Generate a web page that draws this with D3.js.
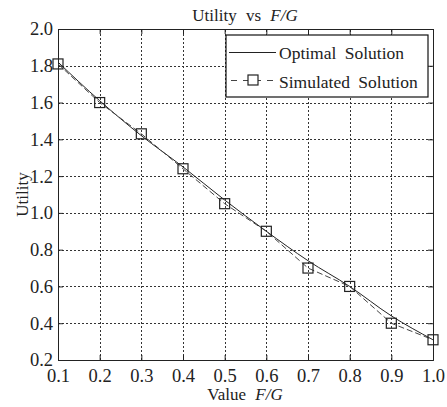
<!DOCTYPE html>
<html>
<head>
<meta charset="utf-8">
<script src="https://cdn.jsdelivr.net/npm/d3@7"></script>
<style>
  body { margin: 0; background: #fff; }
  text { font-family: "Liberation Serif", "DejaVu Serif", serif; fill: #222; }
</style>
</head>
<body>
<script>
const width = 447;
const height = 407;
const margin = { top: 29, right: 14, bottom: 47, left: 58 };

// datos
const valoresFG = [0.1, 0.2, 0.3, 0.4, 0.5, 0.6, 0.7, 0.8, 0.9, 1.0];
const optima = [1.82, 1.61, 1.42, 1.25, 1.07, 0.9, 0.74, 0.6, 0.44, 0.31];
const simulada = [1.81, 1.6, 1.43, 1.24, 1.05, 0.9, 0.7, 0.6, 0.4, 0.31];
const ticksX = [0.1, 0.2, 0.3, 0.4, 0.5, 0.6, 0.7, 0.8, 0.9, 1.0];
const ticksY = [0.2, 0.4, 0.6, 0.8, 1.0, 1.2, 1.4, 1.6, 1.8, 2.0];

const svg = d3
  .select("body")
  .append("svg")
  .attr("width", width)
  .attr("height", height);

const x = d3
  .scaleLinear()
  .domain([0.1, 1.0])
  .range([margin.left, width - margin.right]);

const y = d3
  .scaleLinear()
  .domain([0.2, 2.0])
  .range([height - margin.bottom, margin.top]);

// grilla punteada
const grilla = svg.append("g").attr("stroke", "#333").attr("stroke-width", 1).attr("stroke-dasharray", "2,2");
grilla
  .selectAll(".gx")
  .data(ticksX.slice(1, -1))
  .join("line")
  .attr("x1", (d) => Math.round(x(d)) + 0.5)
  .attr("x2", (d) => Math.round(x(d)) + 0.5)
  .attr("y1", y(0.2))
  .attr("y2", y(2.0));
grilla
  .selectAll(".gy")
  .data(ticksY.slice(1, -1))
  .join("line")
  .attr("y1", (d) => Math.round(y(d)) + 0.5)
  .attr("y2", (d) => Math.round(y(d)) + 0.5)
  .attr("x1", x(0.1))
  .attr("x2", x(1.0));

// ejes
const ejeX = svg
  .append("g")
  .attr("transform", `translate(0, ${y(0.2)})`)
  .call(d3.axisBottom(x).tickValues(ticksX).tickFormat(d3.format(".1f")).tickSize(-5).tickPadding(9));
const ejeY = svg
  .append("g")
  .attr("transform", `translate(${x(0.1)}, 0)`)
  .call(d3.axisLeft(y).tickValues(ticksY).tickFormat(d3.format(".1f")).tickSize(-5).tickPadding(5));
const ejeTop = svg
  .append("g")
  .attr("transform", `translate(0, ${y(2.0)})`)
  .call(d3.axisTop(x).tickValues(ticksX).tickFormat("").tickSize(-5));
const ejeRight = svg
  .append("g")
  .attr("transform", `translate(${x(1.0)}, 0)`)
  .call(d3.axisRight(y).tickValues(ticksY).tickFormat("").tickSize(-5));

[ejeX, ejeY, ejeTop, ejeRight].forEach((g) => {
  g.selectAll(".domain").attr("stroke", "#222");
  g.selectAll(".tick line").attr("stroke", "#222");
  g.selectAll("text").attr("font-size", 18.5).attr("fill", "#222").style("font-family", "Liberation Serif");
});

// lineas
const linea = d3
  .line()
  .x((d, i) => x(valoresFG[i]))
  .y((d) => y(d));

const lineaSuave = d3
  .line()
  .curve(d3.curveMonotoneX)
  .x((d, i) => x(valoresFG[i]))
  .y((d) => y(d));

svg
  .append("path")
  .datum(optima)
  .attr("fill", "none")
  .attr("stroke", "#222")
  .attr("stroke-width", 1)
  .attr("d", lineaSuave);

svg
  .append("path")
  .datum(simulada)
  .attr("fill", "none")
  .attr("stroke", "#444")
  .attr("stroke-width", 1)
  .attr("stroke-dasharray", "6,3")
  .attr("d", linea);

svg
  .append("g")
  .selectAll("rect")
  .data(simulada)
  .join("rect")
  .attr("x", (d, i) => x(valoresFG[i]) - 5)
  .attr("y", (d) => y(d) - 5)
  .attr("width", 10)
  .attr("height", 10)
  .attr("fill", "none")
  .attr("stroke", "#222")
  .attr("stroke-width", 1.2);

// leyenda
const leyenda = svg.append("g").attr("transform", "translate(226, 35)");
leyenda
  .append("rect")
  .attr("width", 202)
  .attr("height", 62)
  .attr("fill", "#fff")
  .attr("stroke", "#111")
  .attr("stroke-width", 1.2);
leyenda
  .append("line")
  .attr("x1", 3)
  .attr("x2", 50)
  .attr("y1", 17.5)
  .attr("y2", 17.5)
  .attr("stroke", "#222");
leyenda
  .append("text")
  .attr("x", 53)
  .attr("y", 24)
  .attr("font-size", 17.5)
  .attr("word-spacing", 4)
  .text("Optimal Solution");
leyenda
  .append("line")
  .attr("x1", 3)
  .attr("x2", 50)
  .attr("y1", 45.5)
  .attr("y2", 45.5)
  .attr("stroke", "#444")
  .attr("stroke-dasharray", "6,6")
  .attr("stroke-dashoffset", -2);
leyenda
  .append("rect")
  .attr("x", 22)
  .attr("y", 40)
  .attr("width", 10)
  .attr("height", 10)
  .attr("fill", "#fff")
  .attr("stroke", "#222")
  .attr("stroke-width", 1.2);
leyenda
  .append("text")
  .attr("x", 53)
  .attr("y", 53)
  .attr("font-size", 17.5)
  .attr("word-spacing", 4)
  .text("Simulated Solution");

// titulos
const titulo = svg
  .append("text")
  .attr("x", 245)
  .attr("y", 21)
  .attr("text-anchor", "middle")
  .attr("font-size", 17)
  .attr("word-spacing", 5);
titulo.append("tspan").text("Utility vs ");
titulo.append("tspan").attr("font-style", "italic").text("F/G");

const etiquetaX = svg
  .append("text")
  .attr("x", 245)
  .attr("y", 400)
  .attr("text-anchor", "middle")
  .attr("font-size", 17)
  .attr("word-spacing", 5);
etiquetaX.append("tspan").text("Value ");
etiquetaX.append("tspan").attr("font-style", "italic").text("F/G");

svg
  .append("text")
  .attr("transform", `translate(28, ${(y(0.2) + y(2.0)) / 2}) rotate(-90)`)
  .attr("text-anchor", "middle")
  .attr("font-size", 17)
  .text("Utility");
</script>
</body>
</html>
